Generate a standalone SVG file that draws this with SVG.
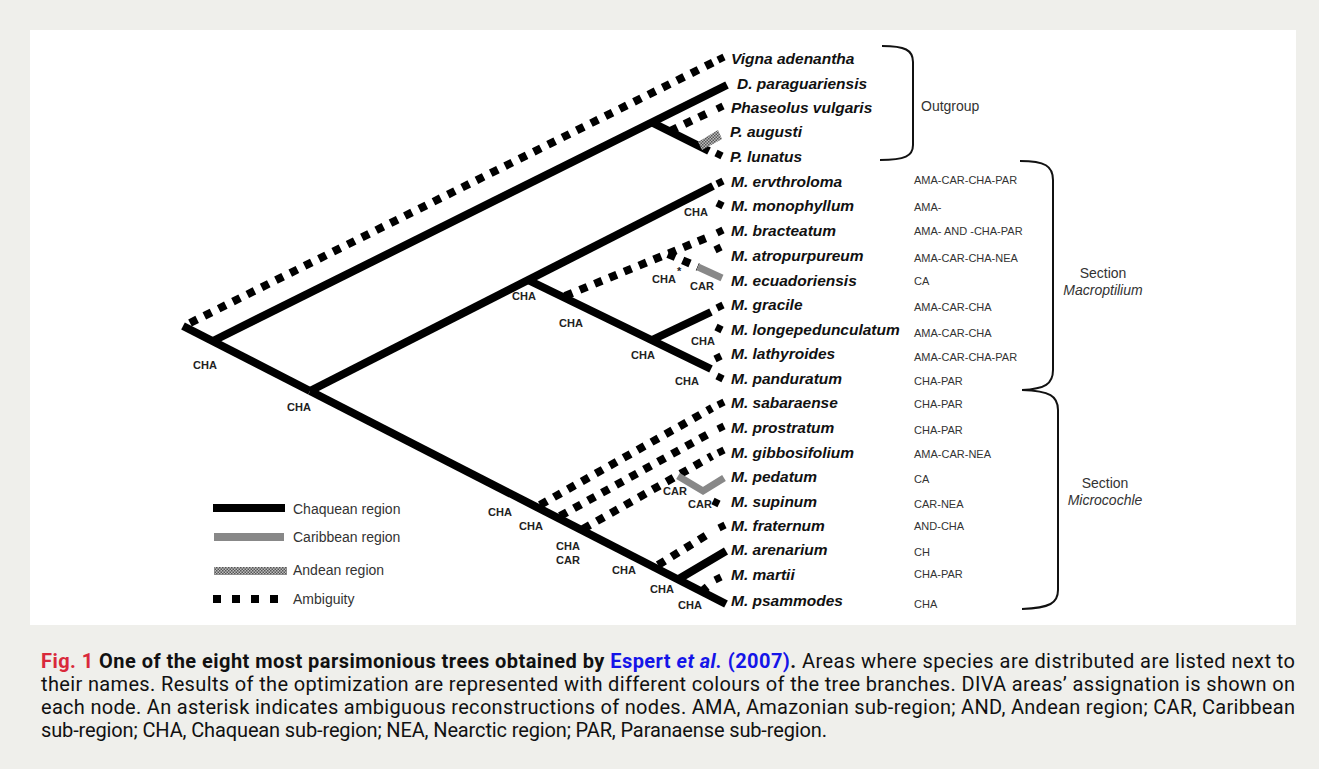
<svg xmlns="http://www.w3.org/2000/svg" width="1319" height="769" viewBox="0 0 1319 769">
<defs>
<pattern id="andean" width="3" height="3" patternUnits="userSpaceOnUse">
<rect width="3" height="3" fill="#bdbdbd"/>
<rect width="1.5" height="1.5" fill="#555"/>
<rect x="1.5" y="1.5" width="1.5" height="1.5" fill="#555"/>
</pattern>
<style>
.s{fill:none;stroke:#000;stroke-width:8;stroke-linecap:butt;stroke-linejoin:miter}
.d{fill:none;stroke:#000;stroke-width:8;stroke-dasharray:8 8}
.g{fill:none;stroke:#888;stroke-width:7}
.tip{fill:none;stroke:#000;stroke-width:7}
.sp{font-family:"Liberation Sans",Arial,sans-serif;font-weight:bold;font-style:italic;font-size:15.5px;fill:#111}
.ar{font-family:"Liberation Sans",Arial,sans-serif;font-size:11px;fill:#333}
.nl{font-family:"Liberation Sans",Arial,sans-serif;font-weight:bold;font-size:11px;fill:#222}
.lg{font-family:"Liberation Sans",Arial,sans-serif;font-size:14px;fill:#333}
.br{fill:none;stroke:#111;stroke-width:2}
.cap{font-family:Roboto,"Noto Sans",sans-serif;font-size:20px;fill:#111}
</style>
</defs>
<rect width="1319" height="769" fill="#efefeb"/>
<rect x="30" y="30" width="1266" height="595" fill="#fff"/>

<g id="connectors">
<path class="s" d="M183,326 L310,391"/>
<path class="s" d="M213,341 L727,85"/>
<path class="s" d="M653,123 L709,151"/>
<path class="s" d="M310,391 L713,186"/>
<path class="s" d="M528,280 L711,369"/>
<path class="s" d="M652,340 L711,312"/>
<path class="s" d="M310,391 L726,604"/>
<path class="s" d="M677,580 L726,551"/>
<path class="d" d="M190,323 L714,62"/>
<path class="d" d="M670,131 L712,111"/>
<path class="d" d="M565,296 L711,236"/>
<path class="d" d="M668,254 L698,267"/>
<path class="d" d="M540,505 L712,408"/>
<path class="d" d="M560,516 L712,432"/>
<path class="d" d="M583,529 L712,456"/>
<path class="d" d="M658,565 L710,533"/>
<path class="d" d="M701,592 L712,583"/>
<path class="g" d="M678,476 L703,491 L724,478"/>
<path class="g" d="M698,267 L722,278"/>
<path d="M702,150 L722,139 L718,130 L698,142 Z" fill="url(#andean)"/>
</g>

<g id="tips">
<path class="tip" d="M718,60 L724,57"/>
<path class="tip" d="M717,109 L723,106"/>
<path class="tip" d="M716,153 L722,156"/>
<path class="tip" d="M717,184 L723,181"/>
<path class="tip" d="M717,203 L723,206"/>
<path class="tip" d="M717,233 L723,230"/>
<path class="tip" d="M715,250 L721,247"/>
<path class="tip" d="M717,308 L723,305"/>
<path class="tip" d="M716,327 L722,330"/>
<path class="tip" d="M715,359 L721,356"/>
<path class="tip" d="M717,376 L723,379"/>
<path class="tip" d="M718,405 L724,402"/>
<path class="tip" d="M718,429 L724,426"/>
<path class="tip" d="M718,453 L724,450"/>
<path class="tip" d="M713,501 L719,504"/>
<path class="tip" d="M719,528 L725,525"/>
<path class="tip" d="M715,580 L721,577"/>
</g>

<g id="species">
<text class="sp" x="731" y="64">Vigna adenantha</text>
<text class="sp" x="737" y="89">D. paraguariensis</text>
<text class="sp" x="731" y="113">Phaseolus vulgaris</text>
<text class="sp" x="730" y="137">P. augusti</text>
<text class="sp" x="730" y="162">P. lunatus</text>
<text class="sp" x="731" y="187">M. ervthroloma</text>
<text class="sp" x="731" y="211">M. monophyllum</text>
<text class="sp" x="731" y="236">M. bracteatum</text>
<text class="sp" x="731" y="261">M. atropurpureum</text>
<text class="sp" x="731" y="286">M. ecuadoriensis</text>
<text class="sp" x="731" y="310">M. gracile</text>
<text class="sp" x="731" y="335">M. longepedunculatum</text>
<text class="sp" x="731" y="359">M. lathyroides</text>
<text class="sp" x="731" y="384">M. panduratum</text>
<text class="sp" x="731" y="408">M. sabaraense</text>
<text class="sp" x="731" y="433">M. prostratum</text>
<text class="sp" x="731" y="458">M. gibbosifolium</text>
<text class="sp" x="731" y="482">M. pedatum</text>
<text class="sp" x="731" y="507">M. supinum</text>
<text class="sp" x="731" y="531">M. fraternum</text>
<text class="sp" x="731" y="555">M. arenarium</text>
<text class="sp" x="731" y="580">M. martii</text>
<text class="sp" x="731" y="606">M. psammodes</text>
</g>

<g id="areas">
<text class="ar" x="914" y="184">AMA-CAR-CHA-PAR</text>
<text class="ar" x="914" y="211">AMA-</text>
<text class="ar" x="914" y="235">AMA- AND -CHA-PAR</text>
<text class="ar" x="914" y="262">AMA-CAR-CHA-NEA</text>
<text class="ar" x="914" y="285">CA</text>
<text class="ar" x="914" y="311">AMA-CAR-CHA</text>
<text class="ar" x="914" y="337">AMA-CAR-CHA</text>
<text class="ar" x="914" y="361">AMA-CAR-CHA-PAR</text>
<text class="ar" x="914" y="385">CHA-PAR</text>
<text class="ar" x="914" y="408">CHA-PAR</text>
<text class="ar" x="914" y="434">CHA-PAR</text>
<text class="ar" x="914" y="458">AMA-CAR-NEA</text>
<text class="ar" x="914" y="483">CA</text>
<text class="ar" x="914" y="508">CAR-NEA</text>
<text class="ar" x="914" y="530">AND-CHA</text>
<text class="ar" x="914" y="556">CH</text>
<text class="ar" x="914" y="578">CHA-PAR</text>
<text class="ar" x="914" y="608">CHA</text>
</g>

<g id="node-labels">
<text class="nl" x="193" y="369">CHA</text>
<text class="nl" x="287" y="411">CHA</text>
<text class="nl" x="512" y="300">CHA</text>
<text class="nl" x="559" y="327">CHA</text>
<text class="nl" x="631" y="359">CHA</text>
<text class="nl" x="691" y="345">CHA</text>
<text class="nl" x="675" y="385">CHA</text>
<text class="nl" x="684" y="216">CHA</text>
<text class="nl" x="652" y="283">CHA</text>
<text class="nl" x="677" y="275">*</text>
<text class="nl" x="690" y="290">CAR</text>
<text class="nl" x="488" y="516">CHA</text>
<text class="nl" x="519" y="530">CHA</text>
<text class="nl" x="556" y="550">CHA</text>
<text class="nl" x="556" y="564">CAR</text>
<text class="nl" x="612" y="574">CHA</text>
<text class="nl" x="650" y="593">CHA</text>
<text class="nl" x="678" y="609">CHA</text>
<text class="nl" x="663" y="495">CAR</text>
<text class="nl" x="688" y="508">CAR</text>
</g>

<g id="outgroup">
<path class="br" d="M882,46 C905,46 913,50 913,62 L913,145 C913,156 905,160 880,160"/>
<text class="lg" x="921" y="111">Outgroup</text>
</g>
<g id="macroptilium">
<path class="br" d="M1020,161 C1045,161 1053,166 1053,180 L1053,370 C1053,384 1045,389 1022,390"/>
<text class="lg" x="1103" y="278" text-anchor="middle">Section</text>
<text class="lg" x="1103" y="295" text-anchor="middle" font-style="italic">Macroptilium</text>
</g>
<g id="microcochle">
<path class="br" d="M1022,390 C1050,391 1058,396 1058,410 L1058,590 C1058,603 1050,608 1022,609"/>
<text class="lg" x="1105" y="488" text-anchor="middle">Section</text>
<text class="lg" x="1105" y="505" text-anchor="middle" font-style="italic">Microcochle</text>
</g>

<g id="legend">
<rect x="213" y="504" width="72" height="8" fill="#000"/>
<text class="lg" x="293" y="514">Chaquean region</text>
<rect x="214" y="533" width="70" height="8" fill="#888"/>
<text class="lg" x="293" y="542">Caribbean region</text>
<rect x="214" y="567" width="73" height="8" fill="url(#andean)"/>
<text class="lg" x="293" y="575">Andean region</text>
<rect x="213" y="595" width="8" height="8" fill="#000"/>
<rect x="232" y="595" width="8" height="8" fill="#000"/>
<rect x="251" y="595" width="8" height="8" fill="#000"/>
<rect x="270" y="595" width="8" height="8" fill="#000"/>
<text class="lg" x="293" y="604">Ambiguity</text>
</g>

<g id="caption">
<text class="cap" x="41" y="668" textLength="1254"><tspan font-weight="bold" fill="#d9293b">Fig. 1</tspan><tspan font-weight="bold">  One of the eight most parsimonious trees obtained by </tspan><tspan font-weight="bold" fill="#1515e8">Espert <tspan font-style="italic">et al.</tspan> (2007)</tspan><tspan font-weight="bold">.</tspan> Areas where species are distributed are listed next to</text>
<text class="cap" x="41" y="691" textLength="1254">their names. Results of the optimization are represented with different colours of the tree branches. DIVA areas’ assignation is shown on</text>
<text class="cap" x="41" y="714" textLength="1254">each node. An asterisk indicates ambiguous reconstructions of nodes. AMA, Amazonian sub-region; AND, Andean region; CAR, Caribbean</text>
<text class="cap" x="41" y="737" textLength="786">sub-region; CHA, Chaquean sub-region; NEA, Nearctic region; PAR, Paranaense sub-region.</text>
</g>
</svg>
